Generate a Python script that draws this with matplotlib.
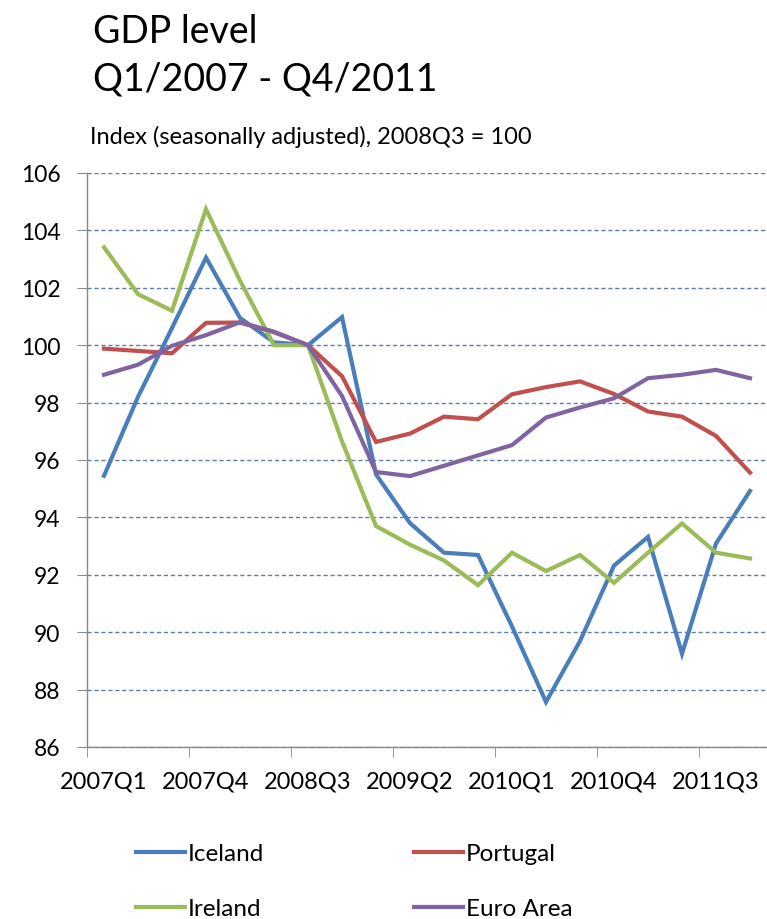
import matplotlib
matplotlib.use("Agg")
import matplotlib.pyplot as plt
from matplotlib.ticker import FixedLocator

plt.rcParams['font.family'] = ['Lato', 'DejaVu Sans']

quarters = [f"{y}Q{q}" for y in range(2007, 2012) for q in range(1, 5)]
tick_labels = ["2007Q1", "2007Q4", "2008Q3", "2009Q2", "2010Q1", "2010Q4", "2011Q3"]

iceland = [95.45, 98.2, 100.6, 103.05, 100.95, 100.1, 100.0, 100.98, 95.5, 93.8,
           92.77, 92.69, 90.2, 87.57, 89.69, 92.32, 93.32, 89.25, 93.09, 94.92]
portugal = [99.88, 99.8, 99.72, 100.78, 100.79, 100.45, 100.0, 98.92, 96.63, 96.92,
            97.51, 97.42, 98.29, 98.54, 98.74, 98.3, 97.69, 97.51, 96.84, 95.56]
ireland = [103.41, 101.78, 101.2, 104.74, 102.25, 100.0, 100.0, 96.65, 93.7, 93.05,
           92.5, 91.64, 92.77, 92.13, 92.69, 91.72, 92.77, 93.79, 92.77, 92.57]
euro_area = [98.97, 99.32, 99.98, 100.35, 100.8, 100.47, 100.0, 98.23, 95.58, 95.44,
             95.8, 96.16, 96.52, 97.48, 97.83, 98.15, 98.85, 98.97, 99.14, 98.85]

series = [("Iceland", iceland, "#4A7EBB"),
          ("Portugal", portugal, "#C0504D"),
          ("Ireland", ireland, "#9BBB59"),
          ("Euro Area", euro_area, "#8064A2")]

fig = plt.figure(figsize=(7.67, 9.2), dpi=100)
ax = fig.add_axes([87/767, 1-748/920, 1-87/767, (748-174)/920])

x = list(range(len(quarters)))
handles = {}
for name, vals, col in series:
    ln, = ax.plot(x, vals, color=col, lw=3.0, solid_joinstyle='miter', label=name, zorder=3)
    handles[name] = ln

ax.set_xlim(-0.5, len(quarters) - 0.5)
ax.set_ylim(86, 106)
ax.set_yticks(range(86, 107, 2))
ax.yaxis.grid(True, linestyle=(0, (3, 2)), color="#5A7FAF", lw=1.0)
ax.set_axisbelow(True)

tick_pos = [quarters.index(t) for t in tick_labels]
ax.set_xticks(tick_pos)
ax.set_xticklabels(tick_labels)
ax.xaxis.set_minor_locator(FixedLocator([p - 0.5 for p in tick_pos]))
ax.tick_params(axis='x', which='major', length=0, pad=17, labelsize=17)
ax.tick_params(axis='x', which='minor', length=7, color="#888888", direction='out')
ax.tick_params(axis='y', length=7, color="#888888", labelsize=16.5, pad=12)

for s in ['top', 'right']:
    ax.spines[s].set_visible(False)
for s in ['left', 'bottom']:
    ax.spines[s].set_color("#888888")
    ax.spines[s].set_linewidth(1.0)

fig.text(93/767, 1-43/920, "GDP level", fontsize=27, va='baseline', ha='left')
fig.text(93/767, 1-91/920, "Q1/2007 - Q4/2011", fontsize=27, va='baseline', ha='left')
fig.text(90/767, 1-137/920, "Index (seasonally adjusted), 2008Q3 = 100", fontsize=17,
         va='center', ha='left')

order = ["Iceland", "Ireland", "Portugal", "Euro Area"]
fig.legend([handles[n] for n in order], order, ncol=2, frameon=False,
           loc='upper left', bbox_to_anchor=(136/767, 1-844/920),
           fontsize=17.5, handlelength=2.0, handletextpad=0.12,
           columnspacing=6.2, labelspacing=1.4, borderpad=0, borderaxespad=0)

fig.savefig("out.png", dpi=100)
